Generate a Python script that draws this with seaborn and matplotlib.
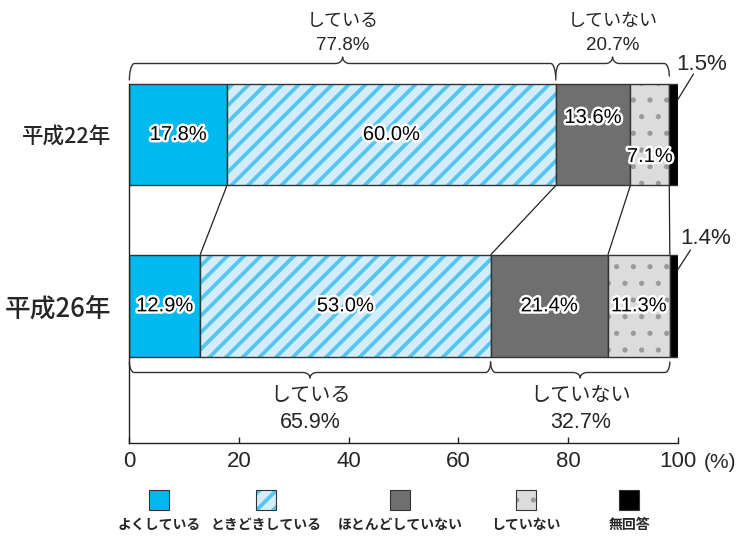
import matplotlib
matplotlib.use("Agg")
import matplotlib.pyplot as plt
import matplotlib.patheffects as pe
from matplotlib.patches import Rectangle
import seaborn as sns
import pandas as pd
import numpy as np

# ---------------- data ----------------
years = ["平成22年", "平成26年"]
segments = ["よくしている", "ときどきしている", "ほとんどしていない", "していない", "無回答"]
yoku = [17.8, 12.9]
tokidoki = [60.0, 53.0]
hotondo = [13.6, 21.4]
shiteinai = [7.1, 11.3]
mukaitou = [1.5, 1.4]
group_names = ["している", "していない"]
group_top = [77.8, 20.7]
group_bottom = [65.9, 32.7]
xticks = [0, 20, 40, 60, 80, 100]

# ---------------- style ----------------
sns.set_theme(style="white")
plt.rcParams['font.family'] = ['Liberation Sans', 'Noto Sans CJK JP', 'DejaVu Sans']
JP = ['Noto Sans CJK JP', 'DejaVu Sans']
NUM = ['Liberation Sans', 'DejaVu Sans']
EDGE = '#333333'
colors = ['#00B9EF', '#D3EDFA', '#6F6F6F', '#DCDCDC', '#000000']
hatches = [None, '//', None, '.', None]
hatch_colors = [None, '#55C5F2', None, '#9A9A9A', None]
hatch_lw = [1.0, 2.7, 1.0, 1.3, 1.0]

W, H = 738, 537
fig = plt.figure(figsize=(W / 100, H / 100), dpi=100)
AX_L, AX_R, AX_T, AX_B = 129.4, 677.5, 50.0, 443.0
ax = fig.add_axes([AX_L / W, 1 - AX_B / H, (AX_R - AX_L) / W, (AX_B - AX_T) / H])

BAR_W = 0.595
PX_Y = 171.35                    # pixels per category unit
Y_TOP = (AX_T - 134.5) / PX_Y
Y_BOT = 1 + (AX_B - 305.85) / PX_Y
PX_X = (AX_R - AX_L) / 100.0

values = [yoku, tokidoki, hotondo, shiteinai, mukaitou]
arr = np.array(values)            # (5, 2)
lefts = np.vstack([np.zeros(2), np.cumsum(arr, axis=0)[:-1]])
cums = np.cumsum(arr, axis=0)

for i, seg in enumerate(segments):
    df = pd.DataFrame({"year": years, "val": values[i]})
    if hatches[i]:
        plt.rcParams['hatch.linewidth'] = hatch_lw[i]
    n0 = len(ax.patches)
    sns.barplot(data=df, x="val", y="year", orient="h", color=colors[i],
                saturation=1, width=BAR_W, errorbar=None, left=lefts[i], ax=ax)
    for p in ax.patches[n0:]:
        p.set_linewidth(0)
        if hatches[i]:
            p.set_edgecolor(hatch_colors[i])
            p.set_hatch(hatches[i])
            if hasattr(p, 'set_hatch_linewidth'):
                p.set_hatch_linewidth(hatch_lw[i])
    n1 = len(ax.patches)
    sns.barplot(data=df, x="val", y="year", orient="h", color=colors[i],
                saturation=1, width=BAR_W, errorbar=None, left=lefts[i], ax=ax)
    for p in ax.patches[n1:]:
        p.set_facecolor('none')
        p.set_hatch(None)
        p.set_edgecolor(EDGE)
        p.set_linewidth(1.0)

# connectors between bars
for k in range(4):
    ax.plot([cums[k, 0], cums[k, 1]], [BAR_W / 2, 1 - BAR_W / 2], color='#222222', lw=0.9,
            solid_capstyle='butt')

# in-bar labels
halo = [pe.withStroke(linewidth=3.5, foreground='white')]
label_dy = [[0, 0], [0, 0], [-17, 0], [22, 0], [0, 0]]   # pixel offsets
for i in range(4):
    for j in range(2):
        xc = lefts[i, j] + arr[i, j] / 2
        ax.text(xc, j + label_dy[i][j] / PX_Y, f"{arr[i, j]:.1f}%", ha='center', va='center',
                fontsize=14.5, family=NUM, color='black', path_effects=halo, zorder=5)

# no-answer labels with leader lines
ax.plot([cums[4, 0], cums[4, 0] + 16 / PX_X], [(100 - 134.5) / PX_Y, (74 - 134.5) / PX_Y],
        color='#222222', lw=0.9, clip_on=False)
ax.text(cums[4, 0] + 24 / PX_X, (64 - 134.5) / PX_Y, f"{mukaitou[0]:.1f}%", ha='center',
        va='center', fontsize=16, family=NUM, clip_on=False)
ax.plot([cums[4, 1], cums[4, 1] + 13 / PX_X], [1 + (270 - 305.85) / PX_Y, 1 + (250 - 305.85) / PX_Y],
        color='#222222', lw=0.9, clip_on=False)
ax.text(cums[4, 1] + 28 / PX_X, 1 + (238 - 305.85) / PX_Y, f"{mukaitou[1]:.1f}%", ha='center',
        va='center', fontsize=16, family=NUM, clip_on=False)


def brace(x0, x1, y_end, y_line, y_tip, ax):
    """Curly brace from x0 to x1 (data); y's in data units."""
    r = 5 / PX_X          # corner radius in x
    ry = (y_line - y_end)
    d = 7 / PX_X          # tip half width
    xm = (x0 + x1) / 2
    t = np.linspace(0, np.pi / 2, 12)
    xs, ys = [], []
    xs += list(x0 + r * (1 - np.cos(t)))
    ys += list(y_end + ry * np.sin(t))
    xs += list(xm - d + d * np.sin(t))
    ys += list(y_line + (y_tip - y_line) * (1 - np.cos(t)))
    xs += list(xm + d * (1 - np.cos(t)))
    ys += list(y_tip + (y_line - y_tip) * np.sin(t))
    xs += list(x1 - r + r * np.sin(t))
    ys += list(y_line - ry * (1 - np.cos(t)))
    ax.plot(xs, ys, color='#333333', lw=1.0, clip_on=False, solid_joinstyle='round')


yt = lambda px: (px - 134.5) / PX_Y
yb = lambda px: 1 + (px - 305.85) / PX_Y
brace(0, group_top[0], yt(80), yt(63.5), yt(57), ax)
brace(group_top[0], group_top[0] + group_top[1], yt(76), yt(63.5), yt(57), ax)
brace(0, group_bottom[0], yb(362), yb(372.5), yb(378), ax)
brace(group_bottom[0], group_bottom[0] + group_bottom[1], yb(362), yb(372.5), yb(378), ax)

# group labels
top_c = [group_top[0] / 2, group_top[0] + group_top[1] / 2]
bot_c = [group_bottom[0] / 2, group_bottom[0] + group_bottom[1] / 2]
for k in range(2):
    ax.text(top_c[k], yt(21), group_names[k], ha='center', va='center', fontsize=13,
            family=JP, clip_on=False)
    ax.text(top_c[k], yt(45.5), f"{group_top[k]:.1f}%", ha='center', va='center', fontsize=13.5,
            family=NUM, clip_on=False)
    ax.text(bot_c[k], yb(395), group_names[k], ha='center', va='center', fontsize=14.5,
            family=JP, clip_on=False)
    ax.text(bot_c[k], yb(422), f"{group_bottom[k]:.1f}%", ha='center', va='center', fontsize=15.5,
            family=NUM, clip_on=False)

# axes styling
ax.set_xlim(0, 100)
ax.set_ylim(Y_BOT, Y_TOP)
ax.set_xlabel("")
ax.set_ylabel("")
ax.set_xticks(xticks)
ax.set_xticklabels([str(v) for v in xticks], fontsize=16, family=NUM)
ax.tick_params(axis='x', direction='in', length=4, width=1, color='#222222', pad=6,
               bottom=True)
ax.tick_params(axis='y', length=0, pad=13)
ax.set_yticks([0, 1])
ax.set_yticklabels(years, family=JP, weight='medium')
for lab, fs in zip(ax.get_yticklabels(), [15.5, 18.5]):
    lab.set_fontsize(fs)
for s in ['top', 'right']:
    ax.spines[s].set_visible(False)
for s in ['left', 'bottom']:
    ax.spines[s].set_color('#222222')
    ax.spines[s].set_linewidth(1.0)
ax.spines['left'].set_bounds(-BAR_W / 2, Y_BOT)
ax.text(100 + 26.5 / PX_X, yb(463), "(%)", ha='left', va='center', fontsize=15, family=NUM,
        clip_on=False)

# legend (swatches above labels)
lax = fig.add_axes([0, 0, 1, 1], zorder=-1)
lax.set_xlim(0, W)
lax.set_ylim(H, 0)
lax.axis('off')
leg_x = [159, 266, 400, 526, 629]
SW = 20
for i in range(5):
    if hatches[i]:
        plt.rcParams['hatch.linewidth'] = hatch_lw[i]
        r = Rectangle((leg_x[i] - SW / 2, 490), SW, SW, facecolor=colors[i],
                      edgecolor=hatch_colors[i], hatch=hatches[i], lw=0)
        lax.add_patch(r)
    else:
        lax.add_patch(Rectangle((leg_x[i] - SW / 2, 490), SW, SW, facecolor=colors[i], lw=0))
    lax.add_patch(Rectangle((leg_x[i] - SW / 2, 490), SW, SW, facecolor='none',
                            edgecolor=EDGE, lw=0.8))
    lax.text(leg_x[i], 525, segments[i], ha='center', va='center', fontsize=10, family=JP,
             weight='bold')

fig.savefig("out.png", dpi=100)
